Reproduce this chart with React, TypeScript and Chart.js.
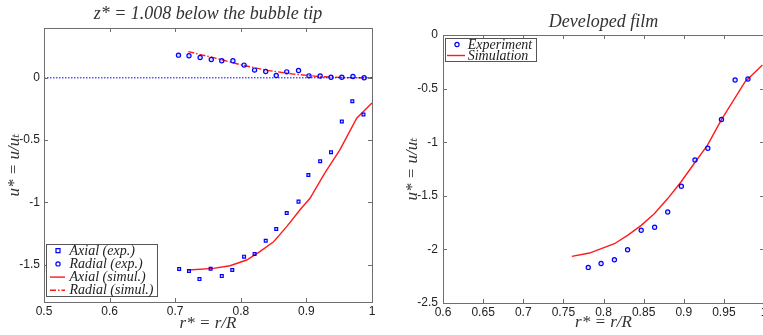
import React, { useEffect, useRef } from "react";
import { Chart, registerables } from "chart.js";

Chart.register(...registerables);

// ---------- Left chart data (z* = 1.008 below the bubble tip) ----------
const axialExpR = [0.706, 0.721, 0.737, 0.754, 0.771, 0.787, 0.805, 0.821, 0.838, 0.854, 0.870, 0.888, 0.903, 0.921, 0.9375, 0.954, 0.970, 0.987];
const axialExpU = [-1.535, -1.551, -1.616, -1.533, -1.592, -1.543, -1.436, -1.415, -1.308, -1.214, -1.085, -0.994, -0.780, -0.670, -0.598, -0.351, -0.188, -0.295];

const radialExpR = [0.705, 0.721, 0.738, 0.755, 0.771, 0.788, 0.805, 0.821, 0.838, 0.854, 0.870, 0.888, 0.904, 0.921, 0.9375, 0.954, 0.971, 0.988];
const radialExpU = [0.182, 0.177, 0.163, 0.147, 0.137, 0.137, 0.102, 0.062, 0.051, 0.019, 0.048, 0.059, 0.016, 0.014, 0.005, 0.005, 0.011, 0.0];

const axialSimR = [0.720, 0.758, 0.7835, 0.809, 0.829, 0.850, 0.870, 0.890, 0.9055, 0.928, 0.951, 0.9767, 1.0];
const axialSimU = [-1.543, -1.53, -1.509, -1.463, -1.396, -1.316, -1.195, -1.061, -0.967, -0.766, -0.579, -0.324, -0.203];

const radialSimR = [0.72, 0.76, 0.80, 0.84, 0.88, 0.92, 0.96, 1.0];
const radialSimU = [0.21, 0.16, 0.105, 0.06, 0.03, 0.01, 0.002, 0.0];

const zeroLineR = [0.5, 1.0];
const zeroLineU = [0, 0];

const leftXTicks = [0.5, 0.6, 0.7, 0.8, 0.9, 1];
const leftYTicks = [-1.5, -1, -0.5, 0];

// ---------- Right chart data (Developed film) ----------
const filmExpR = [0.781, 0.797, 0.8136, 0.830, 0.847, 0.8637, 0.880, 0.897, 0.914, 0.930, 0.947, 0.964, 0.980];
const filmExpU = [-2.168, -2.131, -2.097, -2.003, -1.822, -1.794, -1.651, -1.411, -1.165, -1.056, -0.788, -0.42, -0.411];

const filmSimR = [0.7605, 0.7825, 0.8136, 0.830, 0.847, 0.8633, 0.880, 0.8965, 0.913, 0.9296, 0.947, 0.9765, 0.998];
const filmSimU = [-2.065, -2.034, -1.947, -1.869, -1.776, -1.667, -1.526, -1.371, -1.199, -1.028, -0.79, -0.436, -0.28];

const rightXTicks = [0.6, 0.65, 0.7, 0.75, 0.8, 0.85, 0.9, 0.95, 1];
const rightYTicks = [-2.5, -2, -1.5, -1, -0.5, 0];

const leftTitle = "z* = 1.008 below the bubble tip";
const rightTitle = "Developed film";
const xTitle = "r* = r/R";
const yTitle = "u* = u/uₜ";

const BLUE = "#0000ff";
const RED = "#ff1a1a";
const AXIS = "#6e6e6e";
const TEXT = "#222222";
const SERIF = '"Liberation Serif", "DejaVu Serif", serif';
const SANS = '"Liberation Sans", Arial, sans-serif';

const pts = (xs: number[], ys: number[]) => xs.map((x, i) => ({ x, y: ys[i] }));

// frame + inward ticks
const framePlugin = {
  id: "frameTicks",
  afterDatasetsDraw(chart: any) {
    const { ctx, chartArea: a, scales } = chart;
    ctx.save();
    ctx.strokeStyle = AXIS;
    ctx.lineWidth = 1;
    ctx.strokeRect(Math.round(a.left) + 0.5, Math.round(a.top) + 0.5, Math.round(a.right - a.left), Math.round(a.bottom - a.top));
    const L = 4;
    ctx.beginPath();
    scales.x.ticks.forEach((t: any) => {
      const px = Math.round(scales.x.getPixelForValue(t.value)) + 0.5;
      ctx.moveTo(px, a.bottom); ctx.lineTo(px, a.bottom - L);
      ctx.moveTo(px, a.top); ctx.lineTo(px, a.top + L);
    });
    scales.y.ticks.forEach((t: any) => {
      const py = Math.round(scales.y.getPixelForValue(t.value)) + 0.5;
      ctx.moveTo(a.left, py); ctx.lineTo(a.left + L, py);
      ctx.moveTo(a.right, py); ctx.lineTo(a.right - L, py);
    });
    ctx.stroke();
    ctx.restore();
  },
};

// boxed legend inside plot area
const boxLegendPlugin = {
  id: "boxLegend",
  afterDraw(chart: any, _args: any, opts: any) {
    if (!opts || !opts.width) return;
    const { ctx, chartArea: a } = chart;
    const x0 = a.left + opts.dx;
    const y0 = opts.fromBottom ? a.bottom - opts.dy - opts.height : a.top + opts.dy;
    ctx.save();
    ctx.fillStyle = "#ffffff";
    ctx.fillRect(x0, y0, opts.width, opts.height);
    ctx.strokeStyle = "#555555";
    ctx.lineWidth = 1;
    ctx.strokeRect(Math.round(x0) + 0.5, Math.round(y0) + 0.5, opts.width, opts.height);
    const items = chart.data.datasets.filter((d: any) => d.inLegend);
    ctx.font = `italic ${opts.fontSize}px ${SERIF}`;
    ctx.textBaseline = "middle";
    ctx.textAlign = "left";
    items.forEach((d: any, i: number) => {
      const cy = y0 + opts.firstRow + i * opts.rowH;
      if (d.showLine) {
        ctx.strokeStyle = d.borderColor;
        ctx.lineWidth = d.borderWidth;
        ctx.setLineDash(d.borderDash || []);
        ctx.beginPath();
        ctx.moveTo(x0 + opts.lineX0, cy);
        ctx.lineTo(x0 + opts.lineX1, cy);
        ctx.stroke();
        ctx.setLineDash([]);
      } else {
        const mx = x0 + opts.markX;
        const r = d.pointRadius;
        ctx.strokeStyle = d.borderColor;
        ctx.lineWidth = d.borderWidth;
        ctx.beginPath();
        if (d.pointStyle === "rect") {
          ctx.rect(mx - r, cy - r, 2 * r, 2 * r);
        } else {
          ctx.arc(mx, cy, r, 0, Math.PI * 2);
        }
        ctx.stroke();
      }
      ctx.fillStyle = TEXT;
      ctx.fillText(d.label, x0 + opts.textX, cy + 0.5);
    });
    ctx.restore();
  },
};

function makeScales(opts: {
  xMin: number; xMax: number; yMin: number; yMax: number;
  xTicks: number[]; yTicks: number[];
  yWidth: number; xHeight: number; yTitlePad: number; xTitlePad: number; yTickPad: number; xTickPad: number;
}) {
  const tickFont = { family: SANS, size: 12 };
  const titleFont = { family: SERIF, size: 17, style: "italic" as const, lineHeight: 1.2 };
  return {
    x: {
      type: "linear" as const,
      position: "bottom" as const,
      min: opts.xMin,
      max: opts.xMax,
      afterBuildTicks: (s: any) => { s.ticks = opts.xTicks.map((v) => ({ value: v })); },
      afterFit: (s: any) => { s.height = opts.xHeight; },
      ticks: { autoSkip: false, maxRotation: 0, padding: opts.xTickPad, color: TEXT, font: tickFont, callback: (v: any) => String(Number(v)) },
      grid: { display: false, drawTicks: false },
      border: { display: false },
      title: { display: true, text: xTitle, color: "#333", font: titleFont, padding: { top: 0, bottom: opts.xTitlePad } },
    },
    y: {
      type: "linear" as const,
      position: "left" as const,
      min: opts.yMin,
      max: opts.yMax,
      afterBuildTicks: (s: any) => { s.ticks = opts.yTicks.map((v) => ({ value: v })); },
      afterFit: (s: any) => { s.width = opts.yWidth; },
      ticks: { autoSkip: false, padding: opts.yTickPad, color: TEXT, font: tickFont, callback: (v: any) => String(Number(v)) },
      grid: { display: false, drawTicks: false },
      border: { display: false },
      title: { display: true, text: yTitle, color: "#333", font: titleFont, padding: { top: opts.yTitlePad, bottom: 0 } },
    },
  };
}

function useChart(ref: React.RefObject<HTMLCanvasElement>, build: () => any) {
  useEffect(() => {
    if (!ref.current) return;
    const chart = new Chart(ref.current, build());
    return () => chart.destroy();
  }, []);
}

function LeftChart() {
  const ref = useRef<HTMLCanvasElement>(null);
  useChart(ref, () => ({
    type: "scatter",
    data: {
      datasets: [
        { label: "zero", data: pts(zeroLineR, zeroLineU), showLine: true, borderColor: BLUE, borderWidth: 1, borderDash: [1.5, 1.5], pointRadius: 0, inLegend: false },
        { label: "Axial (exp.)", data: pts(axialExpR, axialExpU), showLine: false, pointStyle: "rect", pointRadius: 2, borderColor: BLUE, backgroundColor: "rgba(0,0,255,0.12)", borderWidth: 1.2, inLegend: true },
        { label: "Radial (exp.)", data: pts(radialExpR, radialExpU), showLine: false, pointStyle: "circle", pointRadius: 2.1, borderColor: BLUE, backgroundColor: "rgba(0,0,255,0.12)", borderWidth: 1.2, inLegend: true },
        { label: "Axial (simul.)", data: pts(axialSimR, axialSimU), showLine: true, borderColor: RED, borderWidth: 1.4, pointRadius: 0, inLegend: true },
        { label: "Radial (simul.)", data: pts(radialSimR, radialSimU), showLine: true, borderColor: RED, borderWidth: 1.4, borderDash: [6, 2, 1.5, 2], pointRadius: 0, inLegend: true },
      ],
    },
    options: {
      responsive: false,
      animation: false,
      devicePixelRatio: 1,
      layout: { padding: { left: 0, right: 8, top: 0, bottom: 0 } },
      scales: makeScales({
        xMin: 0.5, xMax: 1, yMin: -1.8, yMax: 0.4,
        xTicks: leftXTicks, yTicks: leftYTicks,
        yWidth: 44, xHeight: 33, yTitlePad: 4, xTitlePad: 1, yTickPad: 4, xTickPad: 2,
      }),
      plugins: {
        legend: { display: false },
        tooltip: { enabled: false },
        title: {
          display: true, text: leftTitle, fullSize: false, color: "#333",
          font: { family: SERIF, size: 18, style: "italic", weight: "normal", lineHeight: 1.2 },
          padding: { top: 3, bottom: 3.4 },
        },
        boxLegend: { dx: 2, dy: 6, fromBottom: true, width: 111, height: 52, firstRow: 6.7, rowH: 13.2, lineX0: 4, lineX1: 19, markX: 12, textX: 23.5, fontSize: 14 },
      },
    },
    plugins: [framePlugin, boxLegendPlugin],
  }));
  return <canvas ref={ref} width={380} height={335} style={{ position: "absolute", left: 0, top: 0 }} />;
}

function RightChart() {
  const ref = useRef<HTMLCanvasElement>(null);
  useChart(ref, () => ({
    type: "scatter",
    data: {
      datasets: [
        { label: "Experiment", data: pts(filmExpR, filmExpU), showLine: false, pointStyle: "circle", pointRadius: 2.1, borderColor: BLUE, backgroundColor: "rgba(0,0,255,0.12)", borderWidth: 1.2, inLegend: true },
        { label: "Simulation", data: pts(filmSimR, filmSimU), showLine: true, borderColor: RED, borderWidth: 1.4, pointRadius: 0, inLegend: true },
      ],
    },
    options: {
      responsive: false,
      animation: false,
      devicePixelRatio: 1,
      layout: { padding: { left: 0, right: 8, top: 0, bottom: 0 } },
      scales: makeScales({
        xMin: 0.6, xMax: 1, yMin: -2.5, yMax: 0,
        xTicks: rightXTicks, yTicks: rightYTicks,
        yWidth: 63, xHeight: 32, yTitlePad: 22, xTitlePad: 2, yTickPad: 5, xTickPad: 2,
      }),
      plugins: {
        legend: { display: false },
        tooltip: { enabled: false },
        title: {
          display: true, text: rightTitle, fullSize: false, color: "#333",
          font: { family: SERIF, size: 18, style: "italic", weight: "normal", lineHeight: 1.2 },
          padding: { top: 11, bottom: 2.4 },
        },
        boxLegend: { dx: 2, dy: 3, fromBottom: false, width: 91, height: 23, firstRow: 6.5, rowH: 11, lineX0: 2, lineX1: 20, markX: 12, textX: 22.7, fontSize: 14 },
      },
    },
    plugins: [framePlugin, boxLegendPlugin],
  }));
  return <canvas ref={ref} width={392} height={335} style={{ position: "absolute", left: 380, top: 0 }} />;
}

export default function App() {
  return (
    <div style={{ position: "fixed", left: 0, top: 0, width: 763, height: 335, overflow: "hidden", background: "#fff" }}>
      <LeftChart />
      <RightChart />
    </div>
  );
}
